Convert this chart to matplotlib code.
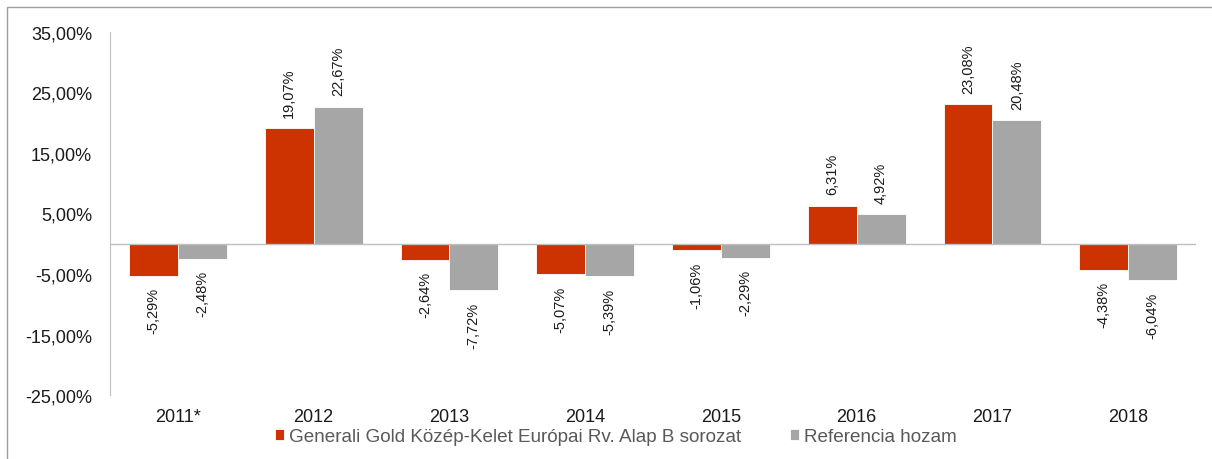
import matplotlib
matplotlib.use("Agg")
import matplotlib.pyplot as plt
import numpy as np
from matplotlib.patches import Rectangle

plt.rcParams['font.family'] = ['Liberation Sans', 'DejaVu Sans']

# --- data ---
years = ["2011*", "2012", "2013", "2014", "2015", "2016", "2017", "2018"]
fund = [-5.29, 19.07, -2.64, -5.07, -1.06, 6.31, 23.08, -4.38]
reference = [-2.48, 22.67, -7.72, -5.39, -2.29, 4.92, 20.48, -6.04]
yticks = [-25, -15, -5, 5, 15, 25, 35]

fund_name = "Generali Gold Közép-Kelet Európai Rv. Alap B sorozat"
ref_name = "Referencia hozam"

red = "#CC3300"
grey = "#A6A6A6"

fig = plt.figure(figsize=(12.12, 4.6), dpi=100)
ax = fig.add_axes([0.0908, 0.1391, 0.8960, 0.7892])

# outer frame, partly outside the picture
fig.patches.append(Rectangle((7 / 1212, -0.1), 1.1, 1.1 - 8 / 460,
                             transform=fig.transFigure, fill=False,
                             edgecolor="#A0A0A0", linewidth=1.0))

x = np.arange(len(years))
w = 0.36
b1 = ax.bar(x - w / 2, fund, w, color=red, edgecolor="white", linewidth=0.6,
            label=fund_name, zorder=2)
b2 = ax.bar(x + w / 2, reference, w, color=grey, edgecolor="white", linewidth=0.6,
            label=ref_name, zorder=2)


def fmt(v):
    return f"{v:.2f}%".replace(".", ",")


for bars, vals in ((b1, fund), (b2, reference)):
    for bar, v in zip(bars, vals):
        cx = bar.get_x() + bar.get_width() / 2
        if v >= 0:
            ax.annotate(fmt(v), (cx, v), xytext=(0, 8), textcoords="offset points",
                        rotation=90, ha="center", va="bottom", fontsize=10.5,
                        color="#1a1a1a")
        else:
            ax.annotate(fmt(v), (cx, v), xytext=(0, -8), textcoords="offset points",
                        rotation=90, ha="center", va="top", fontsize=10.5,
                        color="#1a1a1a")

ax.set_xlim(-0.5, len(years) - 0.5)
ax.set_ylim(-25, 35)
ax.set_yticks(yticks)
ax.set_yticklabels([f"{t:.2f}%".replace(".", ",") for t in yticks])
ax.set_xticks(x)
ax.set_xticklabels(years)
ax.tick_params(axis="both", length=0, labelsize=13, colors="#1a1a1a")
ax.tick_params(axis="y", pad=13)
ax.tick_params(axis="x", pad=9)

for s in ("top", "right", "bottom"):
    ax.spines[s].set_visible(False)
ax.spines["left"].set_color("#BFBFBF")
ax.axhline(0, color="#BFBFBF", linewidth=1.0, zorder=3)

leg = fig.legend(loc="center", bbox_to_anchor=(0.508, 0.048), ncol=2, frameon=False,
                 fontsize=13.6, handlelength=0.5, handleheight=0.5,
                 handletextpad=0.25, columnspacing=2.6)
for t in leg.get_texts():
    t.set_color("#595959")

fig.savefig("out.png", dpi=100)
